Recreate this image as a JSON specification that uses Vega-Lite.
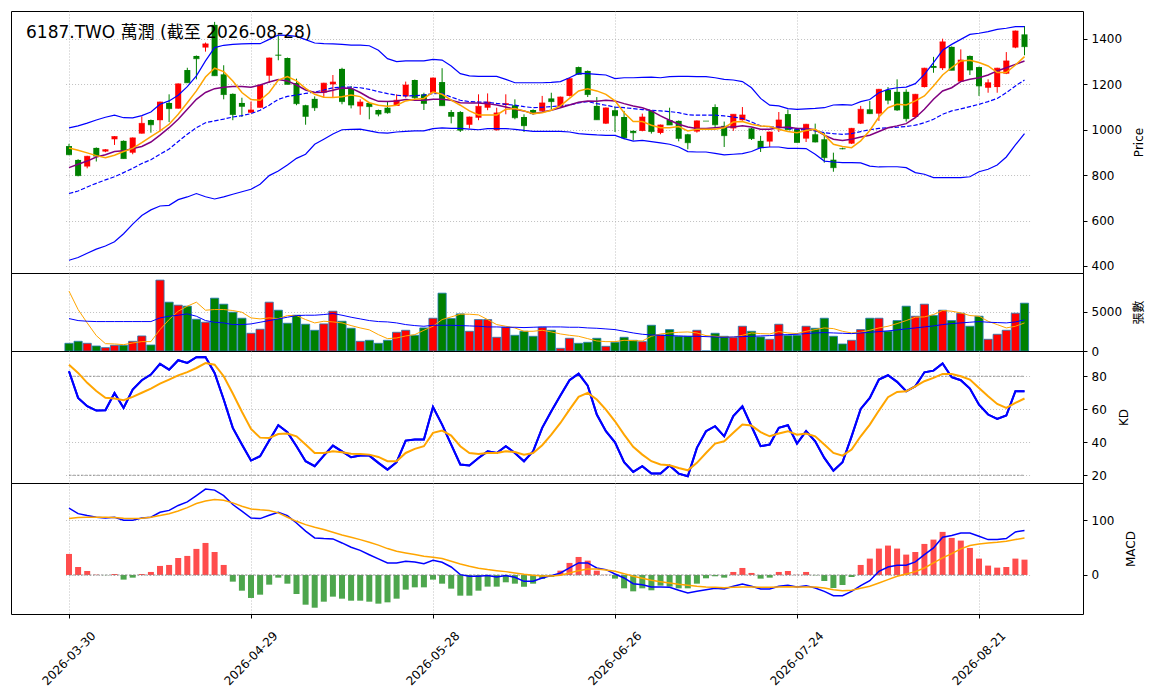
{
  "$schema": "https://vega.github.io/schema/vega-lite/v6.json",
  "padding": {"left": 10, "top": 10, "right": 0, "bottom": 0},
  "background": "white",
  "bounds": "flush",
  "spacing": 0,
  "config": {
    "font": "DejaVu Sans, Noto Sans CJK TC",
    "view": {"stroke": "black", "strokeWidth": 1},
    "axis": {
      "gridColor": "#b0b0b0", "gridDash": [1, 2], "gridOpacity": 1, "gridWidth": 0.8,
      "labelFontSize": 12, "titleFontSize": 12, "labelColor": "black", "titleColor": "black",
      "tickColor": "black", "tickSize": 4, "domain": false, "titleFontWeight": "normal"
    }
  },
  "data": {"values": [
    {"d":"2026-03-30","o":928,"h":938,"l":888,"c":890,"m5":920,"m10":833,"mid":719,"up":1008,"lo":425,"v":982,"v5":7643,"v20":4142,"k":83,"dv":87,"dif":122,"dea":103,"hist":38.4},
    {"d":"2026-03-31","o":867,"h":870,"l":795,"c":798,"m5":910,"m10":848,"mid":730,"up":1017,"lo":437,"v":1238,"v5":5294,"v20":3886,"k":66.9,"dv":82,"dif":112,"dea":105,"hist":14.6},
    {"d":"2026-04-01","o":838,"h":885,"l":830,"c":883,"m5":898,"m10":862,"mid":748,"up":1029,"lo":456,"v":982,"v5":3587,"v20":3800,"k":61.8,"dv":76,"dif":108.5,"dea":105.5,"hist":7.3},
    {"d":"2026-04-02","o":920,"h":922,"l":860,"c":884,"m5":886,"m10":880,"mid":764,"up":1043,"lo":474,"v":640,"v5":1964,"v20":3758,"k":59.2,"dv":71,"dif":105.5,"dea":105.5,"hist":0.6},
    {"d":"2026-04-07","o":904,"h":915,"l":901,"c":912,"m5":877,"m10":890,"mid":779,"up":1055,"lo":488,"v":427,"v5":939,"v20":3758,"k":59.4,"dv":67,"dif":104,"dea":105.5,"hist":-0.3},
    {"d":"2026-04-08","o":958,"h":972,"l":933,"c":970,"m5":888,"m10":904,"mid":793,"up":1064,"lo":507,"v":726,"v5":897,"v20":3758,"k":69.9,"dv":66.5,"dif":105.5,"dea":105,"hist":1.8},
    {"d":"2026-04-09","o":951,"h":953,"l":873,"c":873,"m5":904,"m10":907,"mid":811,"up":1053,"lo":542,"v":726,"v5":811,"v20":3758,"k":60.8,"dv":65.5,"dif":100,"dea":103.7,"hist":-8.5},
    {"d":"2026-04-10","o":899,"h":966,"l":892,"c":964,"m5":918,"m10":917,"mid":830,"up":1052,"lo":584,"v":1238,"v5":1025,"v20":3758,"k":71.9,"dv":67.5,"dif":100,"dea":103,"hist":-4.9},
    {"d":"2026-04-13","o":983,"h":1059,"l":983,"c":1028,"m5":943,"m10":926,"mid":851,"up":1062,"lo":622,"v":1921,"v5":1196,"v20":3758,"k":77.6,"dv":70,"dif":104,"dea":103.7,"hist":1.8},
    {"d":"2026-04-14","o":1043,"h":1045,"l":987,"c":1022,"m5":970,"m10":946,"mid":868,"up":1078,"lo":647,"v":769,"v5":1196,"v20":3758,"k":81,"dv":72.5,"dif":105.5,"dea":105.5,"hist":5.5},
    {"d":"2026-04-15","o":1042,"h":1124,"l":992,"c":1122,"m5":995,"m10":976,"mid":892,"up":1112,"lo":664,"v":9052,"v5":2733,"v20":4227,"k":87.5,"dv":75.5,"dif":114.6,"dea":108.5,"hist":16.5},
    {"d":"2026-04-16","o":1118,"h":1156,"l":1034,"c":1093,"m5":1024,"m10":1009,"mid":915,"up":1127,"lo":667,"v":6234,"v5":4014,"v20":4441,"k":84,"dv":78,"dif":118,"dea":112,"hist":18.3},
    {"d":"2026-04-17","o":1093,"h":1204,"l":1093,"c":1202,"m5":1068,"m10":1046,"mid":948,"up":1152,"lo":692,"v":5850,"v5":5081,"v20":4569,"k":89.7,"dv":80.5,"dif":127,"dea":117,"hist":31},
    {"d":"2026-04-20","o":1263,"h":1273,"l":1207,"c":1207,"m5":1119,"m10":1090,"mid":980,"up":1190,"lo":704,"v":5722,"v5":5722,"v20":4740,"k":88.1,"dv":82.5,"dif":133.5,"dea":123,"hist":34.8},
    {"d":"2026-04-21","o":1325,"h":1327,"l":1222,"c":1313,"m5":1171,"m10":1134,"mid":1009,"up":1237,"lo":719,"v":4056,"v5":6234,"v20":4441,"k":91.5,"dv":85,"dif":145,"dea":130.5,"hist":47.6},
    {"d":"2026-04-22","o":1362,"h":1384,"l":1344,"c":1378,"m5":1232,"m10":1164,"mid":1031,"up":1303,"lo":705,"v":3672,"v5":5209,"v20":3886,"k":91.7,"dv":88,"dif":157,"dea":135,"hist":58.5},
    {"d":"2026-04-23","o":1462,"h":1475,"l":1238,"c":1238,"m5":1271,"m10":1181,"mid":1039,"up":1362,"lo":695,"v":6747,"v5":5294,"v20":3672,"k":82,"dv":87,"dif":155,"dea":137.8,"hist":42},
    {"d":"2026-04-24","o":1244,"h":1284,"l":1134,"c":1155,"m5":1256,"m10":1187,"mid":1047,"up":1372,"lo":704,"v":5978,"v5":5294,"v20":3587,"k":65.9,"dv":80,"dif":145,"dea":136.6,"hist":18.3},
    {"d":"2026-04-27","o":1158,"h":1160,"l":1042,"c":1067,"m5":1215,"m10":1190,"mid":1056,"up":1376,"lo":716,"v":4953,"v5":5167,"v20":3373,"k":48.7,"dv":69.5,"dif":128.7,"dea":131.7,"hist":-12.2},
    {"d":"2026-04-28","o":1118,"h":1141,"l":1056,"c":1103,"m5":1164,"m10":1190,"mid":1062,"up":1378,"lo":727,"v":4185,"v5":4953,"v20":3373,"k":38.6,"dv":58.5,"dif":116.5,"dea":125.6,"hist":-28.7},
    {"d":"2026-04-29","o":1075,"h":1124,"l":1073,"c":1087,"m5":1133,"m10":1187,"mid":1071,"up":1379,"lo":738,"v":2263,"v5":4227,"v20":3459,"k":28.9,"dv":48.1,"dif":104,"dea":120.7,"hist":-42},
    {"d":"2026-04-30","o":1097,"h":1199,"l":1097,"c":1197,"m5":1130,"m10":1197,"mid":1086,"up":1379,"lo":760,"v":2776,"v5":4099,"v20":3672,"k":31.5,"dv":42.8,"dif":103,"dea":119,"hist":-36},
    {"d":"2026-05-04","o":1238,"h":1318,"l":1206,"c":1316,"m5":1164,"m10":1210,"mid":1108,"up":1398,"lo":798,"v":6234,"v5":4227,"v20":3886,"k":41,"dv":42.6,"dif":109,"dea":117.7,"hist":-17.7},
    {"d":"2026-05-05","o":1330,"h":1420,"l":1306,"c":1328,"m5":1219,"m10":1221,"mid":1134,"up":1417,"lo":818,"v":5209,"v5":4142,"v20":4099,"k":50.3,"dv":45,"dif":114.6,"dea":113.4,"hist":-4.9},
    {"d":"2026-05-06","o":1316,"h":1318,"l":1200,"c":1200,"m5":1234,"m10":1215,"mid":1147,"up":1416,"lo":845,"v":3544,"v5":4526,"v20":4313,"k":46.1,"dv":45.3,"dif":108.5,"dea":105.5,"hist":-15.9},
    {"d":"2026-05-07","o":1206,"h":1225,"l":1108,"c":1115,"m5":1215,"m10":1197,"mid":1153,"up":1411,"lo":874,"v":4569,"v5":4526,"v20":4526,"k":37.6,"dv":43.6,"dif":95,"dea":98,"hist":-34.8},
    {"d":"2026-05-08","o":1108,"h":1110,"l":1022,"c":1059,"m5":1182,"m10":1175,"mid":1160,"up":1397,"lo":892,"v":3416,"v5":4014,"v20":4569,"k":28.5,"dv":38.6,"dif":80,"dea":92,"hist":-54.3},
    {"d":"2026-05-11","o":1136,"h":1147,"l":1083,"c":1097,"m5":1156,"m10":1164,"mid":1166,"up":1382,"lo":936,"v":2647,"v5":3587,"v20":4569,"k":25.5,"dv":33.5,"dif":67.7,"dea":87,"hist":-59.8},
    {"d":"2026-05-12","o":1163,"h":1207,"l":1141,"c":1205,"m5":1143,"m10":1165,"mid":1175,"up":1379,"lo":958,"v":3459,"v5":3800,"v20":4654,"k":31.9,"dv":33.5,"dif":66.5,"dea":83,"hist":-48.8},
    {"d":"2026-05-13","o":1200,"h":1241,"l":1144,"c":1210,"m5":1142,"m10":1174,"mid":1185,"up":1378,"lo":981,"v":5081,"v5":3715,"v20":4782,"k":38,"dv":34.5,"dif":65.9,"dea":78,"hist":-39.6},
    {"d":"2026-05-14","o":1268,"h":1273,"l":1112,"c":1124,"m5":1145,"m10":1184,"mid":1188,"up":1376,"lo":1000,"v":3800,"v5":3587,"v20":4569,"k":34.5,"dv":33.9,"dif":58.5,"dea":73,"hist":-43.3},
    {"d":"2026-05-15","o":1181,"h":1193,"l":1094,"c":1109,"m5":1153,"m10":1183,"mid":1188,"up":1373,"lo":1002,"v":2904,"v5":3245,"v20":4313,"k":30.9,"dv":33.1,"dif":50.6,"dea":69,"hist":-47},
    {"d":"2026-05-18","o":1103,"h":1134,"l":1066,"c":1122,"m5":1146,"m10":1164,"mid":1185,"up":1373,"lo":1003,"v":1238,"v5":2946,"v20":4099,"k":31.9,"dv":32.9,"dif":45,"dea":64.6,"hist":-47},
    {"d":"2026-05-19","o":1118,"h":1120,"l":1046,"c":1102,"m5":1119,"m10":1141,"mid":1178,"up":1370,"lo":995,"v":1366,"v5":2700,"v20":3886,"k":31.9,"dv":32.5,"dif":37,"dea":59.8,"hist":-48.8},
    {"d":"2026-05-20","o":1087,"h":1089,"l":1059,"c":1069,"m5":1108,"m10":1125,"mid":1168,"up":1350,"lo":987,"v":982,"v5":2092,"v20":3758,"k":27.5,"dv":31.1,"dif":29.3,"dea":54.5,"hist":-52.4},
    {"d":"2026-05-21","o":1097,"h":1124,"l":1071,"c":1075,"m5":1103,"m10":1124,"mid":1159,"up":1313,"lo":985,"v":1366,"v5":1580,"v20":3715,"k":23.4,"dv":28.5,"dif":22,"dea":48.2,"hist":-50},
    {"d":"2026-05-22","o":1105,"h":1156,"l":1105,"c":1130,"m5":1108,"m10":1127,"mid":1152,"up":1300,"lo":990,"v":2391,"v5":1665,"v20":3587,"k":27.9,"dv":28.5,"dif":22,"dea":43.3,"hist":-43.3},
    {"d":"2026-05-25","o":1147,"h":1212,"l":1141,"c":1197,"m5":1127,"m10":1133,"mid":1149,"up":1303,"lo":993,"v":2647,"v5":1922,"v20":3373,"k":41,"dv":33.5,"dif":25,"dea":40.2,"hist":-26.8},
    {"d":"2026-05-26","o":1219,"h":1221,"l":1134,"c":1141,"m5":1134,"m10":1130,"mid":1150,"up":1303,"lo":995,"v":2007,"v5":2092,"v20":3245,"k":41.6,"dv":36,"dif":23.8,"dea":37.2,"hist":-22.6},
    {"d":"2026-05-27","o":1156,"h":1163,"l":1087,"c":1116,"m5":1138,"m10":1130,"mid":1153,"up":1303,"lo":995,"v":2946,"v5":2647,"v20":3160,"k":41.6,"dv":37.6,"dif":20.7,"dea":34.1,"hist":-22.6},
    {"d":"2026-05-28","o":1163,"h":1230,"l":1161,"c":1228,"m5":1166,"m10":1134,"mid":1159,"up":1310,"lo":1005,"v":4185,"v5":3160,"v20":3288,"k":61.4,"dv":45.7,"dif":26.8,"dea":32.3,"hist":-8.5},
    {"d":"2026-05-29","o":1210,"h":1271,"l":1106,"c":1106,"m5":1156,"m10":1134,"mid":1160,"up":1307,"lo":1008,"v":7387,"v5":4014,"v20":3288,"k":50.7,"dv":47.1,"dif":23.2,"dea":29.9,"hist":-15.9},
    {"d":"2026-06-01","o":1078,"h":1087,"l":1028,"c":1059,"m5":1130,"m10":1130,"mid":1144,"up":1281,"lo":1006,"v":4142,"v5":4355,"v20":3288,"k":38.6,"dv":44,"dif":14.6,"dea":25,"hist":-25},
    {"d":"2026-06-02","o":1078,"h":1082,"l":990,"c":998,"m5":1108,"m10":1119,"mid":1130,"up":1247,"lo":1006,"v":4740,"v5":4697,"v20":3245,"k":26.5,"dv":37.6,"dif":0.6,"dea":20.1,"hist":-37.8},
    {"d":"2026-06-03","o":1022,"h":1058,"l":1006,"c":1056,"m5":1083,"m10":1118,"mid":1124,"up":1237,"lo":1003,"v":2519,"v5":4697,"v20":3203,"k":25.9,"dv":33.5,"dif":-2.4,"dea":15.9,"hist":-37.8},
    {"d":"2026-06-04","o":1053,"h":1156,"l":1042,"c":1103,"m5":1065,"m10":1118,"mid":1122,"up":1235,"lo":1000,"v":4014,"v5":4612,"v20":3160,"k":30.5,"dv":32.9,"dif":-2.4,"dea":12.2,"hist":-28.7},
    {"d":"2026-06-05","o":1097,"h":1160,"l":1086,"c":1122,"m5":1065,"m10":1115,"mid":1121,"up":1235,"lo":1005,"v":4014,"v5":4014,"v20":3074,"k":34.5,"dv":33.5,"dif":-1.2,"dea":9.8,"hist":-21.3},
    {"d":"2026-06-08","o":998,"h":1097,"l":996,"c":1074,"m5":1065,"m10":1109,"mid":1116,"up":1235,"lo":1005,"v":1751,"v5":3373,"v20":3074,"k":33.5,"dv":33.5,"dif":-3.7,"dea":7.9,"hist":-21.3},
    {"d":"2026-06-09","o":1109,"h":1156,"l":1068,"c":1115,"m5":1090,"m10":1100,"mid":1112,"up":1222,"lo":1005,"v":3032,"v5":3160,"v20":3032,"k":37.6,"dv":34.5,"dif":-1.2,"dea":6.1,"hist":-13.4},
    {"d":"2026-06-10","o":1108,"h":1134,"l":1046,"c":1053,"m5":1093,"m10":1090,"mid":1108,"up":1207,"lo":1002,"v":2007,"v5":2946,"v20":3032,"k":33.5,"dv":34.1,"dif":-4.3,"dea":3.7,"hist":-15.9},
    {"d":"2026-06-11","o":1056,"h":1068,"l":990,"c":1018,"m5":1083,"m10":1083,"mid":1102,"up":1207,"lo":997,"v":2519,"v5":2519,"v20":2989,"k":28.5,"dv":32.5,"dif":-11.6,"dea":1.2,"hist":-21.3},
    {"d":"2026-06-12","o":1087,"h":1090,"l":1067,"c":1071,"m5":1071,"m10":1071,"mid":1097,"up":1207,"lo":993,"v":1879,"v5":2519,"v20":3032,"k":34.5,"dv":33.5,"dif":-11.6,"dea":-0.6,"hist":-15.9},
    {"d":"2026-06-15","o":1083,"h":1149,"l":1081,"c":1118,"m5":1075,"m10":1078,"mid":1099,"up":1207,"lo":993,"v":3032,"v5":2647,"v20":3074,"k":48.7,"dv":38.2,"dif":-5.5,"dea":-1.8,"hist":-7.3},
    {"d":"2026-06-16","o":1138,"h":1163,"l":1090,"c":1124,"m5":1086,"m10":1086,"mid":1102,"up":1209,"lo":993,"v":2647,"v5":2434,"v20":3074,"k":58.8,"dv":44.6,"dif":-1.2,"dea":-1.8,"hist":-3.7},
    {"d":"2026-06-17","o":1100,"h":1146,"l":1098,"c":1144,"m5":1105,"m10":1097,"mid":1105,"up":1212,"lo":993,"v":342,"v5":2178,"v20":3074,"k":68.3,"dv":51.7,"dif":3.7,"dea":-0.6,"hist":7.9},
    {"d":"2026-06-18","o":1149,"h":1229,"l":1147,"c":1225,"m5":1138,"m10":1109,"mid":1109,"up":1229,"lo":990,"v":1623,"v5":2007,"v20":3032,"k":77.6,"dv":59.8,"dif":12.8,"dea":3.7,"hist":22},
    {"d":"2026-06-22","o":1276,"h":1278,"l":1242,"c":1244,"m5":1171,"m10":1121,"mid":1118,"up":1248,"lo":983,"v":982,"v5":1879,"v20":3032,"k":81.6,"dv":67.5,"dif":22,"dea":7.9,"hist":32.9},
    {"d":"2026-06-23","o":1259,"h":1261,"l":1144,"c":1155,"m5":1180,"m10":1127,"mid":1124,"up":1247,"lo":980,"v":1110,"v5":1580,"v20":2946,"k":74.3,"dv":69.9,"dif":22,"dea":11,"hist":26.2},
    {"d":"2026-06-24","o":1105,"h":1144,"l":1044,"c":1044,"m5":1171,"m10":1125,"mid":1115,"up":1244,"lo":977,"v":1623,"v5":1281,"v20":2904,"k":56.8,"dv":65.9,"dif":12.8,"dea":11,"hist":7.9},
    {"d":"2026-06-25","o":1027,"h":1098,"l":1025,"c":1096,"m5":1156,"m10":1130,"mid":1108,"up":1241,"lo":975,"v":598,"v5":1196,"v20":2818,"k":46.7,"dv":59.8,"dif":9.8,"dea":9.1,"hist":0.3},
    {"d":"2026-06-26","o":1086,"h":1102,"l":990,"c":1062,"m5":1127,"m10":1127,"mid":1100,"up":1225,"lo":975,"v":1110,"v5":1196,"v20":2733,"k":40,"dv":52.7,"dif":1.8,"dea":6.7,"hist":-6.7},
    {"d":"2026-06-29","o":1056,"h":1083,"l":958,"c":964,"m5":1075,"m10":1115,"mid":1097,"up":1229,"lo":961,"v":1751,"v5":1366,"v20":2519,"k":27.9,"dv":44.6,"dif":-5.5,"dea":2.4,"hist":-24.4},
    {"d":"2026-06-30","o":995,"h":997,"l":953,"c":987,"m5":1036,"m10":1105,"mid":1093,"up":1229,"lo":950,"v":1366,"v5":1324,"v20":2306,"k":22,"dv":37.2,"dif":-15.9,"dea":-2.4,"hist":-29.9},
    {"d":"2026-07-01","o":995,"h":1071,"l":993,"c":1056,"m5":1036,"m10":1097,"mid":1089,"up":1231,"lo":953,"v":1196,"v5":1281,"v20":2135,"k":25.5,"dv":32.5,"dif":-17.7,"dea":-6.1,"hist":-24.4},
    {"d":"2026-07-02","o":1083,"h":1085,"l":983,"c":992,"m5":1020,"m10":1083,"mid":1086,"up":1232,"lo":948,"v":3288,"v5":1879,"v20":2050,"k":21,"dv":28.5,"dif":-22,"dea":-9.8,"hist":-28},
    {"d":"2026-07-03","o":986,"h":1023,"l":980,"c":1021,"m5":1009,"m10":1061,"mid":1083,"up":1229,"lo":942,"v":2050,"v5":2178,"v20":2007,"k":21,"dv":26.5,"dif":-22,"dea":-12.2,"hist":-19.5},
    {"d":"2026-07-06","o":1043,"h":1097,"l":1021,"c":1021,"m5":1009,"m10":1042,"mid":1080,"up":1234,"lo":936,"v":2733,"v5":2306,"v20":1964,"k":25.9,"dv":26.1,"dif":-22.6,"dea":-14.6,"hist":-21.3},
    {"d":"2026-07-07","o":1039,"h":1041,"l":949,"c":962,"m5":1014,"m10":1024,"mid":1075,"up":1235,"lo":924,"v":1879,"v5":2391,"v20":1922,"k":21,"dv":24.4,"dif":-28,"dea":-17.1,"hist":-24.4},
    {"d":"2026-07-08","o":980,"h":982,"l":914,"c":943,"m5":995,"m10":1012,"mid":1066,"up":1235,"lo":904,"v":1879,"v5":2434,"v20":1879,"k":19.4,"dv":23,"dif":-32.9,"dea":-18.9,"hist":-24.4},
    {"d":"2026-07-09","o":992,"h":1041,"l":987,"c":1039,"m5":1002,"m10":1006,"mid":1064,"up":1234,"lo":902,"v":2647,"v5":2306,"v20":1879,"k":36.6,"dv":27.5,"dif":-29.9,"dea":-20.7,"hist":-15.9},
    {"d":"2026-07-10","o":1038,"h":1038,"l":1038,"c":1038,"m5":1002,"m10":1006,"mid":1064,"up":1234,"lo":902,"v":0,"v5":1964,"v20":1836,"k":46.7,"dv":33.5,"dif":-26.8,"dea":-22,"hist":-6.1},
    {"d":"2026-07-13","o":1100,"h":1112,"l":1009,"c":1022,"m5":1002,"m10":1009,"mid":1064,"up":1229,"lo":896,"v":2263,"v5":1879,"v20":1793,"k":49.7,"dv":39.2,"dif":-24.4,"dea":-22.6,"hist":-2.4},
    {"d":"2026-07-14","o":1017,"h":1036,"l":924,"c":974,"m5":1009,"m10":1012,"mid":1061,"up":1222,"lo":889,"v":1879,"v5":1793,"v20":1751,"k":43.6,"dv":40.6,"dif":-25.6,"dea":-23.2,"hist":-4.9},
    {"d":"2026-07-15","o":1006,"h":1068,"l":995,"c":1068,"m5":1034,"m10":1012,"mid":1056,"up":1219,"lo":892,"v":1708,"v5":1751,"v20":1793,"k":55.8,"dv":45.7,"dif":-20.7,"dea":-22.6,"hist":5.5},
    {"d":"2026-07-16","o":1042,"h":1100,"l":1040,"c":1065,"m5":1036,"m10":1017,"mid":1050,"up":1212,"lo":895,"v":3160,"v5":2007,"v20":1836,"k":61.8,"dv":50.7,"dif":-16.5,"dea":-22,"hist":12.8},
    {"d":"2026-07-17","o":1006,"h":1008,"l":955,"c":961,"m5":1024,"m10":1012,"mid":1034,"up":1185,"lo":904,"v":2519,"v5":2306,"v20":1879,"k":49.7,"dv":50.1,"dif":-20.7,"dea":-22,"hist":3.7},
    {"d":"2026-07-20","o":951,"h":973,"l":902,"c":921,"m5":1017,"m10":1002,"mid":1017,"up":1138,"lo":921,"v":1793,"v5":2220,"v20":1922,"k":37.6,"dv":46.1,"dif":-25.6,"dea":-22.6,"hist":-6.7},
    {"d":"2026-07-21","o":948,"h":992,"l":924,"c":990,"m5":1014,"m10":1002,"mid":1012,"up":1108,"lo":924,"v":1495,"v5":2178,"v20":1964,"k":38.6,"dv":43.6,"dif":-25.6,"dea":-22.6,"hist":-4.9},
    {"d":"2026-07-22","o":1009,"h":1078,"l":990,"c":1043,"m5":1002,"m10":1009,"mid":1012,"up":1105,"lo":924,"v":3416,"v5":2477,"v20":2050,"k":48.7,"dv":45.3,"dif":-20.7,"dea":-22,"hist":5.5},
    {"d":"2026-07-23","o":1069,"h":1089,"l":1000,"c":1000,"m5":992,"m10":1012,"mid":1006,"up":1093,"lo":918,"v":1964,"v5":2306,"v20":2092,"k":50.3,"dv":46.7,"dif":-18.9,"dea":-21.3,"hist":7.3},
    {"d":"2026-07-24","o":1002,"h":1009,"l":944,"c":944,"m5":987,"m10":1006,"mid":1002,"up":1090,"lo":918,"v":2007,"v5":2220,"v20":2135,"k":39.2,"dv":44.6,"dif":-22,"dea":-22,"hist":0.3},
    {"d":"2026-07-27","o":961,"h":1026,"l":946,"c":1024,"m5":997,"m10":1005,"mid":999,"up":1092,"lo":917,"v":3160,"v5":2519,"v20":2220,"k":46.7,"dv":45.3,"dif":-19.5,"dea":-22,"hist":5.5},
    {"d":"2026-07-28","o":980,"h":1027,"l":944,"c":946,"m5":1002,"m10":1000,"mid":995,"up":1094,"lo":892,"v":2904,"v5":2733,"v20":2306,"k":40.6,"dv":43.6,"dif":-23.8,"dea":-22,"hist":-0.5},
    {"d":"2026-07-29","o":958,"h":987,"l":855,"c":877,"m5":977,"m10":976,"mid":987,"up":1097,"lo":862,"v":4185,"v5":2946,"v20":2349,"k":30.5,"dv":38.6,"dif":-29.9,"dea":-23.8,"hist":-11},
    {"d":"2026-07-30","o":868,"h":899,"l":815,"c":833,"m5":936,"m10":958,"mid":983,"up":1109,"lo":858,"v":1879,"v5":2861,"v20":2306,"k":22.8,"dv":33.5,"dif":-37.8,"dea":-26.8,"hist":-23.8},
    {"d":"2026-07-31","o":918,"h":921,"l":914,"c":916,"m5":926,"m10":953,"mid":980,"up":1111,"lo":855,"v":897,"v5":2519,"v20":2263,"k":27.9,"dv":31.9,"dif":-37.8,"dea":-28.7,"hist":-18.3},
    {"d":"2026-08-03","o":939,"h":1008,"l":937,"c":1006,"m5":921,"m10":958,"mid":983,"up":1108,"lo":855,"v":1366,"v5":2306,"v20":2220,"k":43.6,"dv":35.6,"dif":-29.9,"dea":-28,"hist":-3.7},
    {"d":"2026-08-04","o":1027,"h":1105,"l":1025,"c":1090,"m5":951,"m10":968,"mid":992,"up":1124,"lo":854,"v":2733,"v5":2391,"v20":2306,"k":60.2,"dv":43.6,"dif":-19.5,"dea":-24.4,"hist":18.3},
    {"d":"2026-08-05","o":1090,"h":1127,"l":1069,"c":1071,"m5":997,"m10":976,"mid":1000,"up":1133,"lo":840,"v":4185,"v5":2647,"v20":2391,"k":66.9,"dv":50.7,"dif":-10.4,"dea":-20.7,"hist":29.9},
    {"d":"2026-08-06","o":1071,"h":1180,"l":1039,"c":1178,"m5":1056,"m10":992,"mid":1006,"up":1163,"lo":836,"v":4185,"v5":2946,"v20":2477,"k":78,"dv":59.2,"dif":6.7,"dea":-14.6,"hist":48.2},
    {"d":"2026-08-07","o":1175,"h":1188,"l":1112,"c":1130,"m5":1097,"m10":1009,"mid":1009,"up":1178,"lo":837,"v":2519,"v5":3160,"v20":2562,"k":80.6,"dv":67.3,"dif":14.6,"dea":-8.5,"hist":53.7},
    {"d":"2026-08-10","o":1167,"h":1222,"l":1083,"c":1087,"m5":1112,"m10":1017,"mid":1011,"up":1185,"lo":837,"v":3886,"v5":3501,"v20":2690,"k":76.6,"dv":70.5,"dif":17.7,"dea":-2.4,"hist":48.2},
    {"d":"2026-08-11","o":1167,"h":1178,"l":1036,"c":1049,"m5":1109,"m10":1027,"mid":1014,"up":1188,"lo":833,"v":5722,"v5":3886,"v20":2818,"k":70.9,"dv":70.9,"dif":17.7,"dea":1.8,"hist":37.2},
    {"d":"2026-08-12","o":1056,"h":1158,"l":1054,"c":1156,"m5":1127,"m10":1053,"mid":1020,"up":1203,"lo":811,"v":4441,"v5":4313,"v20":2946,"k":73.9,"dv":73.9,"dif":23.8,"dea":6.1,"hist":42},
    {"d":"2026-08-13","o":1188,"h":1273,"l":1186,"c":1271,"m5":1149,"m10":1090,"mid":1031,"up":1244,"lo":804,"v":5978,"v5":4355,"v20":3074,"k":82.4,"dv":77,"dif":37.2,"dea":12.8,"hist":56.7},
    {"d":"2026-08-14","o":1281,"h":1321,"l":1251,"c":1274,"m5":1193,"m10":1134,"mid":1046,"up":1296,"lo":789,"v":4526,"v5":4654,"v20":3203,"k":83.4,"dv":79,"dif":49.4,"dea":22,"hist":64.6},
    {"d":"2026-08-17","o":1271,"h":1401,"l":1263,"c":1387,"m5":1241,"m10":1171,"mid":1068,"up":1350,"lo":789,"v":5209,"v5":5167,"v20":3373,"k":87.7,"dv":81.4,"dif":68.9,"dea":31.1,"hist":78.7},
    {"d":"2026-08-18","o":1365,"h":1367,"l":1262,"c":1262,"m5":1274,"m10":1185,"mid":1083,"up":1376,"lo":789,"v":3886,"v5":5081,"v20":3501,"k":79.4,"dv":81.4,"dif":72,"dea":39,"hist":67.7},
    {"d":"2026-08-19","o":1212,"h":1354,"l":1210,"c":1307,"m5":1303,"m10":1212,"mid":1092,"up":1398,"lo":789,"v":4825,"v5":4868,"v20":3587,"k":77.6,"dv":80,"dif":76.8,"dea":47.6,"hist":62.8},
    {"d":"2026-08-20","o":1325,"h":1327,"l":1241,"c":1263,"m5":1306,"m10":1222,"mid":1102,"up":1420,"lo":793,"v":3160,"v5":4526,"v20":3672,"k":72.5,"dv":78,"dif":76.8,"dea":53.7,"hist":49.4},
    {"d":"2026-08-21","o":1276,"h":1278,"l":1149,"c":1193,"m5":1296,"m10":1229,"mid":1112,"up":1425,"lo":815,"v":4441,"v5":4441,"v20":3758,"k":62.8,"dv":72.9,"dif":70.7,"dea":56.7,"hist":29.9},
    {"d":"2026-08-24","o":1185,"h":1222,"l":1163,"c":1207,"m5":1281,"m10":1241,"mid":1124,"up":1432,"lo":826,"v":1495,"v5":3800,"v20":3672,"k":56.8,"dv":67.9,"dif":64.6,"dea":58.5,"hist":17.1},
    {"d":"2026-08-25","o":1188,"h":1273,"l":1163,"c":1271,"m5":1252,"m10":1259,"mid":1138,"up":1442,"lo":845,"v":2135,"v5":3373,"v20":3630,"k":54.1,"dv":63.2,"dif":64.6,"dea":59.8,"hist":13.4},
    {"d":"2026-08-26","o":1247,"h":1342,"l":1245,"c":1303,"m5":1252,"m10":1273,"mid":1163,"up":1447,"lo":880,"v":2647,"v5":2946,"v20":3587,"k":56.2,"dv":60.8,"dif":66.5,"dea":61.6,"hist":14.6},
    {"d":"2026-08-27","o":1362,"h":1437,"l":1359,"c":1435,"m5":1285,"m10":1288,"mid":1193,"up":1454,"lo":933,"v":4825,"v5":3160,"v20":3715,"k":70.9,"dv":63.8,"dif":78.7,"dea":64.6,"hist":29.9},
    {"d":"2026-08-28","o":1420,"h":1457,"l":1328,"c":1366,"m5":1322,"m10":1303,"mid":1219,"up":1454,"lo":983,"v":6106,"v5":3587,"v20":3971,"k":70.9,"dv":66.5,"dif":81.1,"dea":67.7,"hist":28}
  ]},
  "vconcat": [
    {
      "width": 1072,
      "height": 262,
      "title": {"text": "6187.TWO 萬潤 (截至 2026-08-28)", "anchor": "start", "frame": "group", "orient": "top", "offset": -44, "dx": 15, "fontSize": 17, "fontWeight": "normal", "color": "black", "baseline": "alphabetic"},
      "layer": [
        {
          "mark": {"type": "rule", "strokeWidth": 1},
          "encoding": {
            "x": {"field": "d", "type": "ordinal", "scale": {"type": "band", "paddingInner": 0, "paddingOuter": 0, "range": [53.45, 1018.05]}, "axis": {"values": ["2026-03-30", "2026-04-29", "2026-05-28", "2026-06-26", "2026-07-24", "2026-08-21"], "labels": false, "ticks": false, "title": null, "grid": true, "bandPosition": 0.5}},
            "y": {"field": "l", "type": "quantitative", "title": "Price", "scale": {"domain": [369, 1523], "nice": false, "zero": false}, "axis": {"orient": "right", "values": [400, 600, 800, 1000, 1200, 1400], "format": "d", "grid": true, "labelPadding": 4, "titleAngle": 270, "titleBaseline": "top", "titlePadding": 12}},
            "y2": {"field": "h"},
            "color": {"condition": {"test": "datum.c > datum.o", "value": "#ff0000"}, "value": "#008000"}
          }
        },
        {
          "mark": {"type": "bar", "width": {"band": 0.66}},
          "encoding": {
            "x": {"field": "d", "type": "ordinal", "scale": {"type": "band", "paddingInner": 0, "paddingOuter": 0, "range": [53.45, 1018.05]}},
            "y": {"field": "o", "type": "quantitative", "title": "Price", "scale": {"domain": [369, 1523], "nice": false, "zero": false}},
            "y2": {"field": "c"},
            "color": {"condition": {"test": "datum.c > datum.o", "value": "#ff0000"}, "value": "#008000"}
          }
        },
        {
          "mark": {"type": "tick", "size": 6, "thickness": 1},
          "encoding": {
            "x": {"field": "d", "type": "ordinal", "scale": {"type": "band", "paddingInner": 0, "paddingOuter": 0, "range": [53.45, 1018.05]}},
            "y": {"field": "c", "type": "quantitative", "title": "Price", "scale": {"domain": [369, 1523], "nice": false, "zero": false}},
            "color": {"condition": {"test": "datum.c > datum.o", "value": "#ff0000"}, "value": "#008000"}
          }
        },
        {
          "mark": {"type": "line", "color": "#0000ff", "strokeWidth": 1.2},
          "encoding": {
            "x": {"field": "d", "type": "ordinal", "scale": {"type": "band", "paddingInner": 0, "paddingOuter": 0, "range": [53.45, 1018.05]}},
            "y": {"field": "up", "type": "quantitative", "title": "Price", "scale": {"domain": [369, 1523], "nice": false, "zero": false}}
          }
        },
        {
          "mark": {"type": "line", "color": "#0000ff", "strokeWidth": 1.2},
          "encoding": {
            "x": {"field": "d", "type": "ordinal", "scale": {"type": "band", "paddingInner": 0, "paddingOuter": 0, "range": [53.45, 1018.05]}},
            "y": {"field": "lo", "type": "quantitative", "title": "Price", "scale": {"domain": [369, 1523], "nice": false, "zero": false}}
          }
        },
        {
          "mark": {"type": "line", "color": "#0000ff", "strokeWidth": 1.2, "strokeDash": [4.4, 1.9]},
          "encoding": {
            "x": {"field": "d", "type": "ordinal", "scale": {"type": "band", "paddingInner": 0, "paddingOuter": 0, "range": [53.45, 1018.05]}},
            "y": {"field": "mid", "type": "quantitative", "title": "Price", "scale": {"domain": [369, 1523], "nice": false, "zero": false}}
          }
        },
        {
          "mark": {"type": "line", "color": "#800080", "strokeWidth": 1.5},
          "encoding": {
            "x": {"field": "d", "type": "ordinal", "scale": {"type": "band", "paddingInner": 0, "paddingOuter": 0, "range": [53.45, 1018.05]}},
            "y": {"field": "m10", "type": "quantitative", "title": "Price", "scale": {"domain": [369, 1523], "nice": false, "zero": false}}
          }
        },
        {
          "mark": {"type": "line", "color": "#ffa500", "strokeWidth": 1.5},
          "encoding": {
            "x": {"field": "d", "type": "ordinal", "scale": {"type": "band", "paddingInner": 0, "paddingOuter": 0, "range": [53.45, 1018.05]}},
            "y": {"field": "m5", "type": "quantitative", "title": "Price", "scale": {"domain": [369, 1523], "nice": false, "zero": false}}
          }
        }
      ]
    },
    {
      "width": 1072,
      "height": 78,
      "layer": [
        {
          "mark": {"type": "bar", "width": {"band": 0.9}, "stroke": "#1f77b4", "strokeWidth": 0.8},
          "encoding": {
            "x": {"field": "d", "type": "ordinal", "scale": {"type": "band", "paddingInner": 0, "paddingOuter": 0, "range": [53.45, 1018.05]}, "axis": {"values": ["2026-03-30", "2026-04-29", "2026-05-28", "2026-06-26", "2026-07-24", "2026-08-21"], "labels": false, "ticks": false, "title": null, "grid": true, "bandPosition": 0.5}},
            "y": {"field": "v", "type": "quantitative", "title": "張數", "scale": {"domain": [0, 9960], "nice": false}, "axis": {"orient": "right", "values": [0, 5000], "format": "d", "grid": true, "labelPadding": 4, "titleAngle": 270, "titleBaseline": "top", "titlePadding": 12}},
            "color": {"condition": {"test": "datum.c > datum.o", "value": "#ff0000"}, "value": "#008000"}
          }
        },
        {
          "mark": {"type": "line", "color": "#ffa500", "strokeWidth": 1},
          "encoding": {
            "x": {"field": "d", "type": "ordinal", "scale": {"type": "band", "paddingInner": 0, "paddingOuter": 0, "range": [53.45, 1018.05]}},
            "y": {"field": "v5", "type": "quantitative", "title": "張數", "scale": {"domain": [0, 9960], "nice": false}}
          }
        },
        {
          "mark": {"type": "line", "color": "#0000ff", "strokeWidth": 1},
          "encoding": {
            "x": {"field": "d", "type": "ordinal", "scale": {"type": "band", "paddingInner": 0, "paddingOuter": 0, "range": [53.45, 1018.05]}},
            "y": {"field": "v20", "type": "quantitative", "title": "張數", "scale": {"domain": [0, 9960], "nice": false}}
          }
        }
      ]
    },
    {
      "width": 1072,
      "height": 132,
      "layer": [
        {
          "mark": {"type": "line", "color": "#0000ff", "strokeWidth": 2},
          "encoding": {
            "x": {"field": "d", "type": "ordinal", "scale": {"type": "band", "paddingInner": 0, "paddingOuter": 0, "range": [53.45, 1018.05]}, "axis": {"values": ["2026-03-30", "2026-04-29", "2026-05-28", "2026-06-26", "2026-07-24", "2026-08-21"], "labels": false, "ticks": false, "title": null, "grid": true, "bandPosition": 0.5}},
            "y": {"field": "k", "type": "quantitative", "title": "KD", "scale": {"domain": [15.3, 95.3], "nice": false, "zero": false}, "axis": {"orient": "right", "values": [20, 40, 60, 80], "format": "d", "grid": true, "labelPadding": 4, "titleAngle": 270, "titleBaseline": "top", "titlePadding": 12}}
          }
        },
        {
          "mark": {"type": "line", "color": "#808080", "strokeWidth": 0.8, "strokeDash": [2.5, 1.5]},
          "encoding": {
            "x": {"field": "d", "type": "ordinal", "scale": {"type": "band", "paddingInner": 0, "paddingOuter": 0, "range": [53.45, 1018.05]}},
            "y": {"datum": 80, "type": "quantitative", "title": "KD", "scale": {"domain": [15.3, 95.3], "nice": false, "zero": false}}
          }
        },
        {
          "mark": {"type": "line", "color": "#808080", "strokeWidth": 0.8, "strokeDash": [2.5, 1.5]},
          "encoding": {
            "x": {"field": "d", "type": "ordinal", "scale": {"type": "band", "paddingInner": 0, "paddingOuter": 0, "range": [53.45, 1018.05]}},
            "y": {"datum": 20, "type": "quantitative", "title": "KD", "scale": {"domain": [15.3, 95.3], "nice": false, "zero": false}}
          }
        },
        {
          "mark": {"type": "line", "color": "#0000ff", "strokeWidth": 2},
          "encoding": {
            "x": {"field": "d", "type": "ordinal", "scale": {"type": "band", "paddingInner": 0, "paddingOuter": 0, "range": [53.45, 1018.05]}},
            "y": {"field": "k", "type": "quantitative", "title": "KD", "scale": {"domain": [15.3, 95.3], "nice": false, "zero": false}}
          }
        },
        {
          "mark": {"type": "line", "color": "#ffa500", "strokeWidth": 2},
          "encoding": {
            "x": {"field": "d", "type": "ordinal", "scale": {"type": "band", "paddingInner": 0, "paddingOuter": 0, "range": [53.45, 1018.05]}},
            "y": {"field": "dv", "type": "quantitative", "title": "KD", "scale": {"domain": [15.3, 95.3], "nice": false, "zero": false}}
          }
        }
      ]
    },
    {
      "width": 1072,
      "height": 131,
      "layer": [
        {
          "mark": {"type": "bar", "width": {"band": 0.66}},
          "encoding": {
            "x": {"field": "d", "type": "ordinal", "scale": {"type": "band", "paddingInner": 0, "paddingOuter": 0, "range": [53.45, 1018.05]}, "axis": {"values": ["2026-03-30", "2026-04-29", "2026-05-28", "2026-06-26", "2026-07-24", "2026-08-21"], "labelAngle": -45, "labelAlign": "center", "labelBaseline": "middle", "labelPadding": 40, "title": null, "grid": true, "bandPosition": 0.5}},
            "y": {"field": "hist", "type": "quantitative", "title": "MACD", "scale": {"domain": [-71.3, 168], "nice": false, "zero": false}, "axis": {"orient": "right", "values": [0, 100], "format": "d", "grid": true, "labelPadding": 4, "titleAngle": 270, "titleBaseline": "top", "titlePadding": 12}},
            "color": {"condition": {"test": "datum.hist >= 0", "value": "#ff4d4d"}, "value": "#4da64d"}
          }
        },
        {
          "mark": {"type": "line", "color": "#808080", "strokeWidth": 0.8, "strokeDash": [2.5, 1.5]},
          "encoding": {
            "x": {"field": "d", "type": "ordinal", "scale": {"type": "band", "paddingInner": 0, "paddingOuter": 0, "range": [53.45, 1018.05]}},
            "y": {"datum": 0, "type": "quantitative", "title": "MACD", "scale": {"domain": [-71.3, 168], "nice": false, "zero": false}}
          }
        },
        {
          "mark": {"type": "line", "color": "#0000ff", "strokeWidth": 1.5},
          "encoding": {
            "x": {"field": "d", "type": "ordinal", "scale": {"type": "band", "paddingInner": 0, "paddingOuter": 0, "range": [53.45, 1018.05]}},
            "y": {"field": "dif", "type": "quantitative", "title": "MACD", "scale": {"domain": [-71.3, 168], "nice": false, "zero": false}}
          }
        },
        {
          "mark": {"type": "line", "color": "#ffa500", "strokeWidth": 1.5},
          "encoding": {
            "x": {"field": "d", "type": "ordinal", "scale": {"type": "band", "paddingInner": 0, "paddingOuter": 0, "range": [53.45, 1018.05]}},
            "y": {"field": "dea", "type": "quantitative", "title": "MACD", "scale": {"domain": [-71.3, 168], "nice": false, "zero": false}}
          }
        }
      ]
    }
  ]
}
